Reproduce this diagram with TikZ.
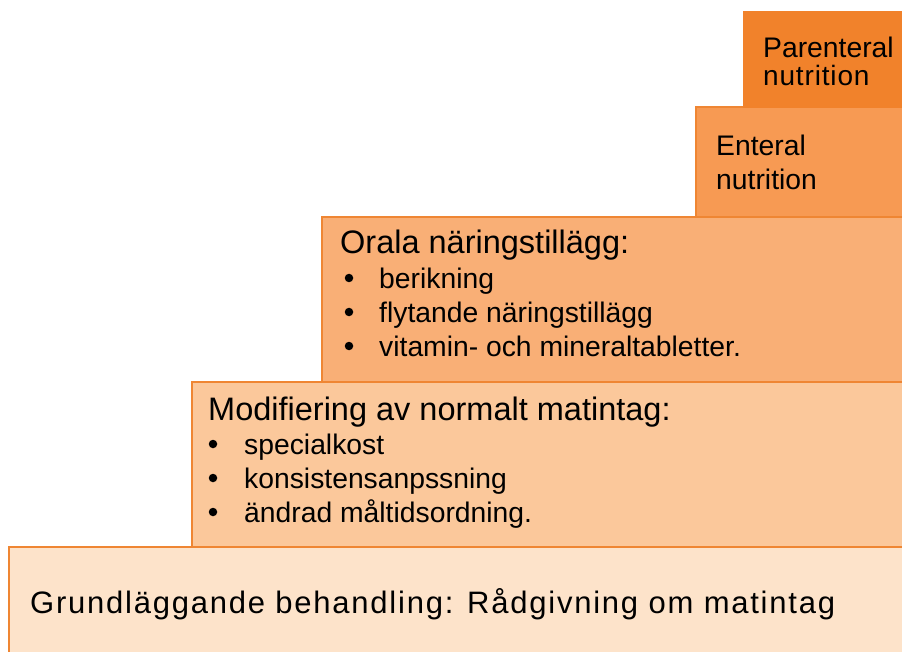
\documentclass[tikz,border=0pt]{standalone}
\usepackage{fontspec}
\setmainfont{Liberation Sans}
\definecolor{stepline}{HTML}{EF8633}
\definecolor{stepA}{HTML}{FDE3CA}
\definecolor{stepB}{HTML}{FBC89B}
\definecolor{stepC}{HTML}{F9AF76}
\definecolor{stepD}{HTML}{F79A53}
\definecolor{stepE}{HTML}{F1822B}
\tikzset{
  stair/.style={draw=stepline, line width=1.2pt},
  head/.style={anchor=base west, inner sep=0pt, font=\fontsize{32.5}{36}\selectfont},
  item/.style={anchor=base west, inner sep=0pt, font=\fontsize{28.3}{32}\selectfont},
  dot/.style={circle, fill=black, inner sep=0pt, minimum size=8.5pt},
}
\begin{document}
\begin{tikzpicture}[x=1pt,y=-1pt]
    \useasboundingbox (0,0) rectangle (902,652);
    \clip (0,0) rectangle (902,652); % the steps run off the right edge
    % the five steps, from the bottom up
    \filldraw[stair, fill=stepA] (9,547) rectangle (920,670);
    \filldraw[stair, fill=stepB] (192,382) rectangle (920,547);
    \filldraw[stair, fill=stepC] (322,217) rectangle (920,382);
    \filldraw[stair, fill=stepD] (696,107) rectangle (920,217);
    \filldraw[stair, fill=stepE, draw=stepE] (744,12) rectangle (920,107);

    % bottom step
    \node[head, font=\fontsize{31}{36}\selectfont\addfontfeature{LetterSpace=5.7}] (grund) at (30,613)
      {Grundläggande behandling: Rådgivning om matintag};

    % second step
    \node[head] (modif) at (208,420) {Modifiering av normalt matintag:};
    \foreach \txt [count=\i] in {specialkost, konsistensanpssning, ändrad måltidsordning.}{%
      \node[dot] (modifdot\i) at (213,410+34*\i) {};
      \node[item] (modif\i) at (244,420+34*\i) {\txt};
    }

    % third step
    \node[head] (orala) at (340,254) {Orala näringstillägg:};
    \foreach \txt [count=\i] in {berikning, flytande näringstillägg, vitamin- och mineraltabletter.}{%
      \node[dot] (oraladot\i) at (349,244+34*\i) {};
      \node[item] (orala\i) at (379,254+34*\i) {\txt};
    }

    % fourth step
    \node[item] (enteral) at (716,156) {Enteral};
    \node[item] (enteral2) at (716,190) {nutrition};

    % top step
    \node[item] (parent) at (763,58) {Parenteral};
    \node[item, font=\fontsize{28}{32}\selectfont\addfontfeature{LetterSpace=3}] (parent2) at (763,86) {nutrition};
\end{tikzpicture}
\end{document}
